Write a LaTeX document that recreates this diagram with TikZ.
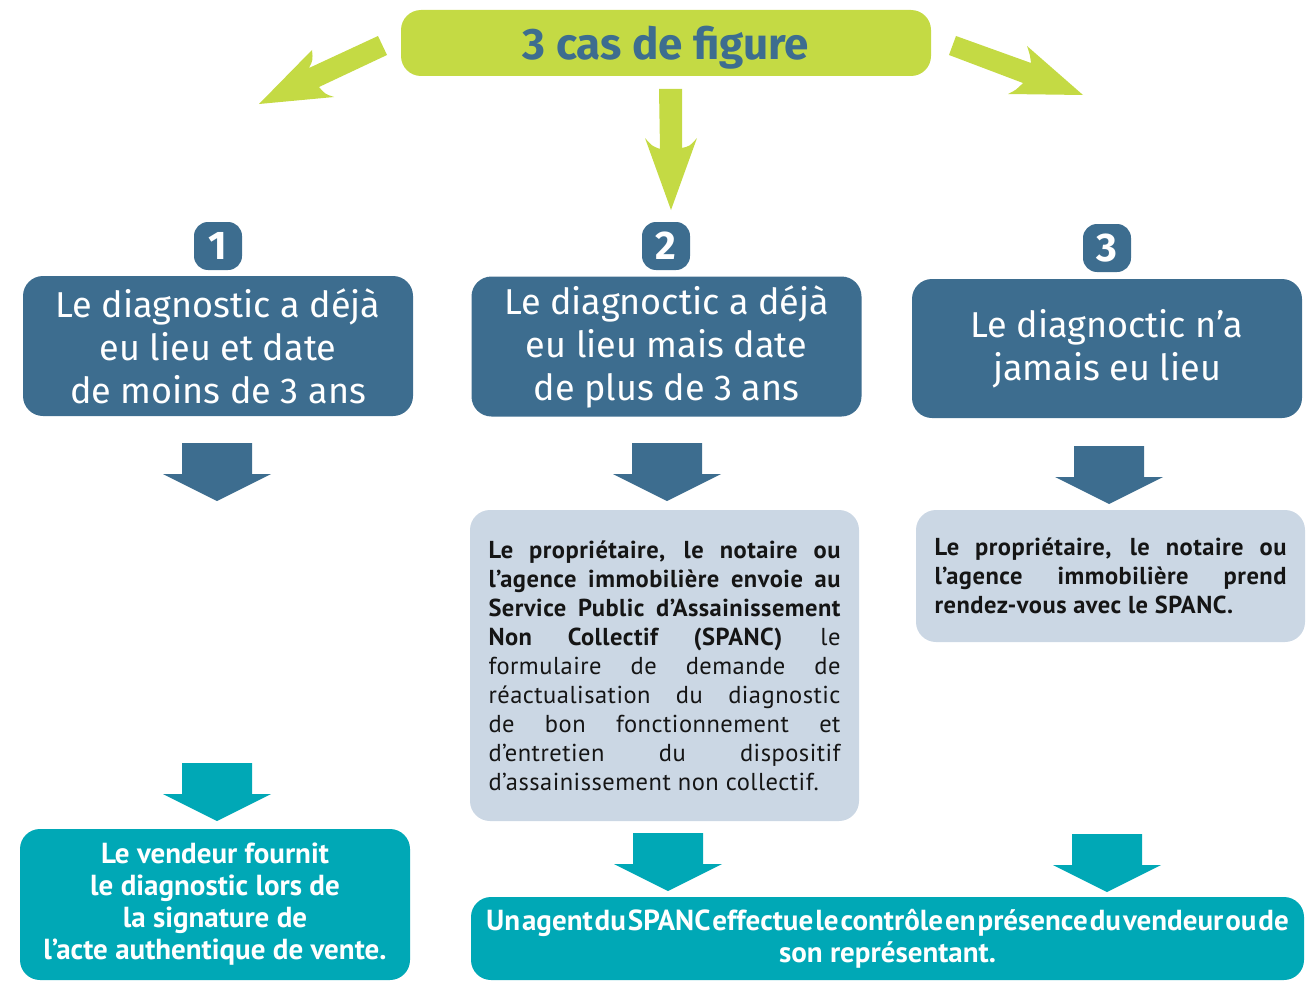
\documentclass[tikz,border=0pt]{standalone}
\usepackage{fontspec}
\setmainfont{PT Sans}
\newfontfamily\titrefont{Fira Sans}
\newfontfamily\corpsfont[LetterSpace=2]{PT Sans}
\usepackage{xcolor}
\usetikzlibrary{calc}

\definecolor{vert}{HTML}{C4DA44}
\definecolor{bleu}{HTML}{3D6D8F}
\definecolor{gris}{HTML}{CBD7E4}
\definecolor{turquoise}{HTML}{00A8B6}
\definecolor{noir}{HTML}{151515}

% fleche pleine vers le bas : pointe haute (x,y), couleur
\newcommand{\flechebas}[2]{\fill[#2] #1 ++(-35,0) -- ++(70,0) -- ++(0,31) -- ++(19,0) -- ++(-54,27) -- ++(-54,-27) -- ++(19,0) -- cycle;}
% ligne justifiee
\newcommand{\jligne}[1]{\makebox[352pt][s]{#1}\\}

\begin{document}
\begin{tikzpicture}[x=1pt,y=-1pt]

\tikzset{
    boite/.style = {
    rectangle,
    rounded corners=20pt,
    inner sep=0pt,
    align=center
    }
}

\tikzstyle{titre}=[boite, fill=vert, text=bleu, minimum width=530pt, minimum height=66pt, text depth=0pt, font=\titrefont\bfseries\fontsize{44}{50}\selectfont]
\tikzstyle{numero}=[boite, rounded corners=14pt, fill=bleu, text=white, minimum width=48pt, minimum height=48pt, font=\titrefont\bfseries\fontsize{40}{40}\selectfont]
\tikzstyle{cas}=[boite, fill=bleu, text=white, minimum width=390pt, minimum height=140pt, font=\titrefont\fontsize{36}{43}\selectfont]
\tikzstyle{demarche}=[boite, fill=gris, text=noir, minimum width=389pt, align=left, font=\corpsfont\fontsize{24.5}{29}\selectfont]
\tikzstyle{resultat}=[boite, fill=turquoise, text=white, font=\bfseries\fontsize{29}{32}\selectfont]

\useasboundingbox (0,0) rectangle (1307,982);

\node (titre) [titre] at (666,43) {3 cas de figure};

% les trois fleches vertes
\fill[vert] (378,36) -- (309,68) .. controls (313,60) .. (312,50) -- (259,104) -- (334,97) .. controls (325,94) .. (319,87) -- (387,55) -- cycle;
\fill[vert] (659,89) -- (660,149) .. controls (652,146) .. (645,138) -- (671,210) -- (697,138) .. controls (690,146) .. (682,148) -- (682,89) -- cycle;
\fill[vert] (956,36) -- (1031,63) .. controls (1030,55) .. (1027,46) -- (1083,95) -- (1008,94) .. controls (1016,90) .. (1023,83) -- (949,55) -- cycle;

\node (num-1) [numero] at (218,246) {1};
\node (num-2) [numero] at (666,246) {2};
\node (num-3) [numero] at (1107,248) {3};

\node (cas-1) [cas] at (218,346) {Le diagnostic a déjà\\eu lieu et date\\de moins de 3 ans};
\node (cas-2) [cas] at (666.5,346.5) {Le diagnoctic a déjà\\eu lieu mais date\\de plus de 3 ans};
\node (cas-3) [cas, minimum height=139pt] at (1107,348.5) {Le diagnoctic n’a\\jamais eu lieu};

\flechebas{(217,443)}{bleu}
\flechebas{(667,443)}{bleu}
\flechebas{(1109,446)}{bleu}

\node (envoi) [demarche, minimum height=311pt] at (664.5,665.5) {%
\jligne{\bfseries Le propriétaire, le notaire ou}
\jligne{\bfseries l’agence immobilière envoie au}
\jligne{\bfseries Service Public d’Assainissement}
\jligne{\textbf{Non Collectif (SPANC)} le}
\jligne{formulaire de demande de}
\jligne{réactualisation du diagnostic}
\jligne{de bon fonctionnement et}
\jligne{d’entretien du dispositif}
d’assainissement non collectif.};

\node (rdv) [demarche, minimum height=132pt] at (1110.5,576) {%
\jligne{\bfseries Le propriétaire, le notaire ou}
\jligne{\bfseries l’agence immobilière prend}
\textbf{rendez-vous avec le SPANC.}};

\flechebas{(217,763)}{turquoise}
\flechebas{(668,833)}{turquoise}
\flechebas{(1107,834)}{turquoise}

\node (vendeur) [resultat, minimum width=390pt, minimum height=151pt] at (215,904.5) {Le vendeur fournit\\le diagnostic lors de\\la signature de\\l’acte authentique de vente.};
\node (controle) [resultat, minimum width=833pt, minimum height=83pt] at (887.5,938.5) {{\spaceskip=2pt Un agent du SPANC effectue le contrôle en présence du vendeur ou de}\\son représentant.};

\end{tikzpicture}
\end{document}
